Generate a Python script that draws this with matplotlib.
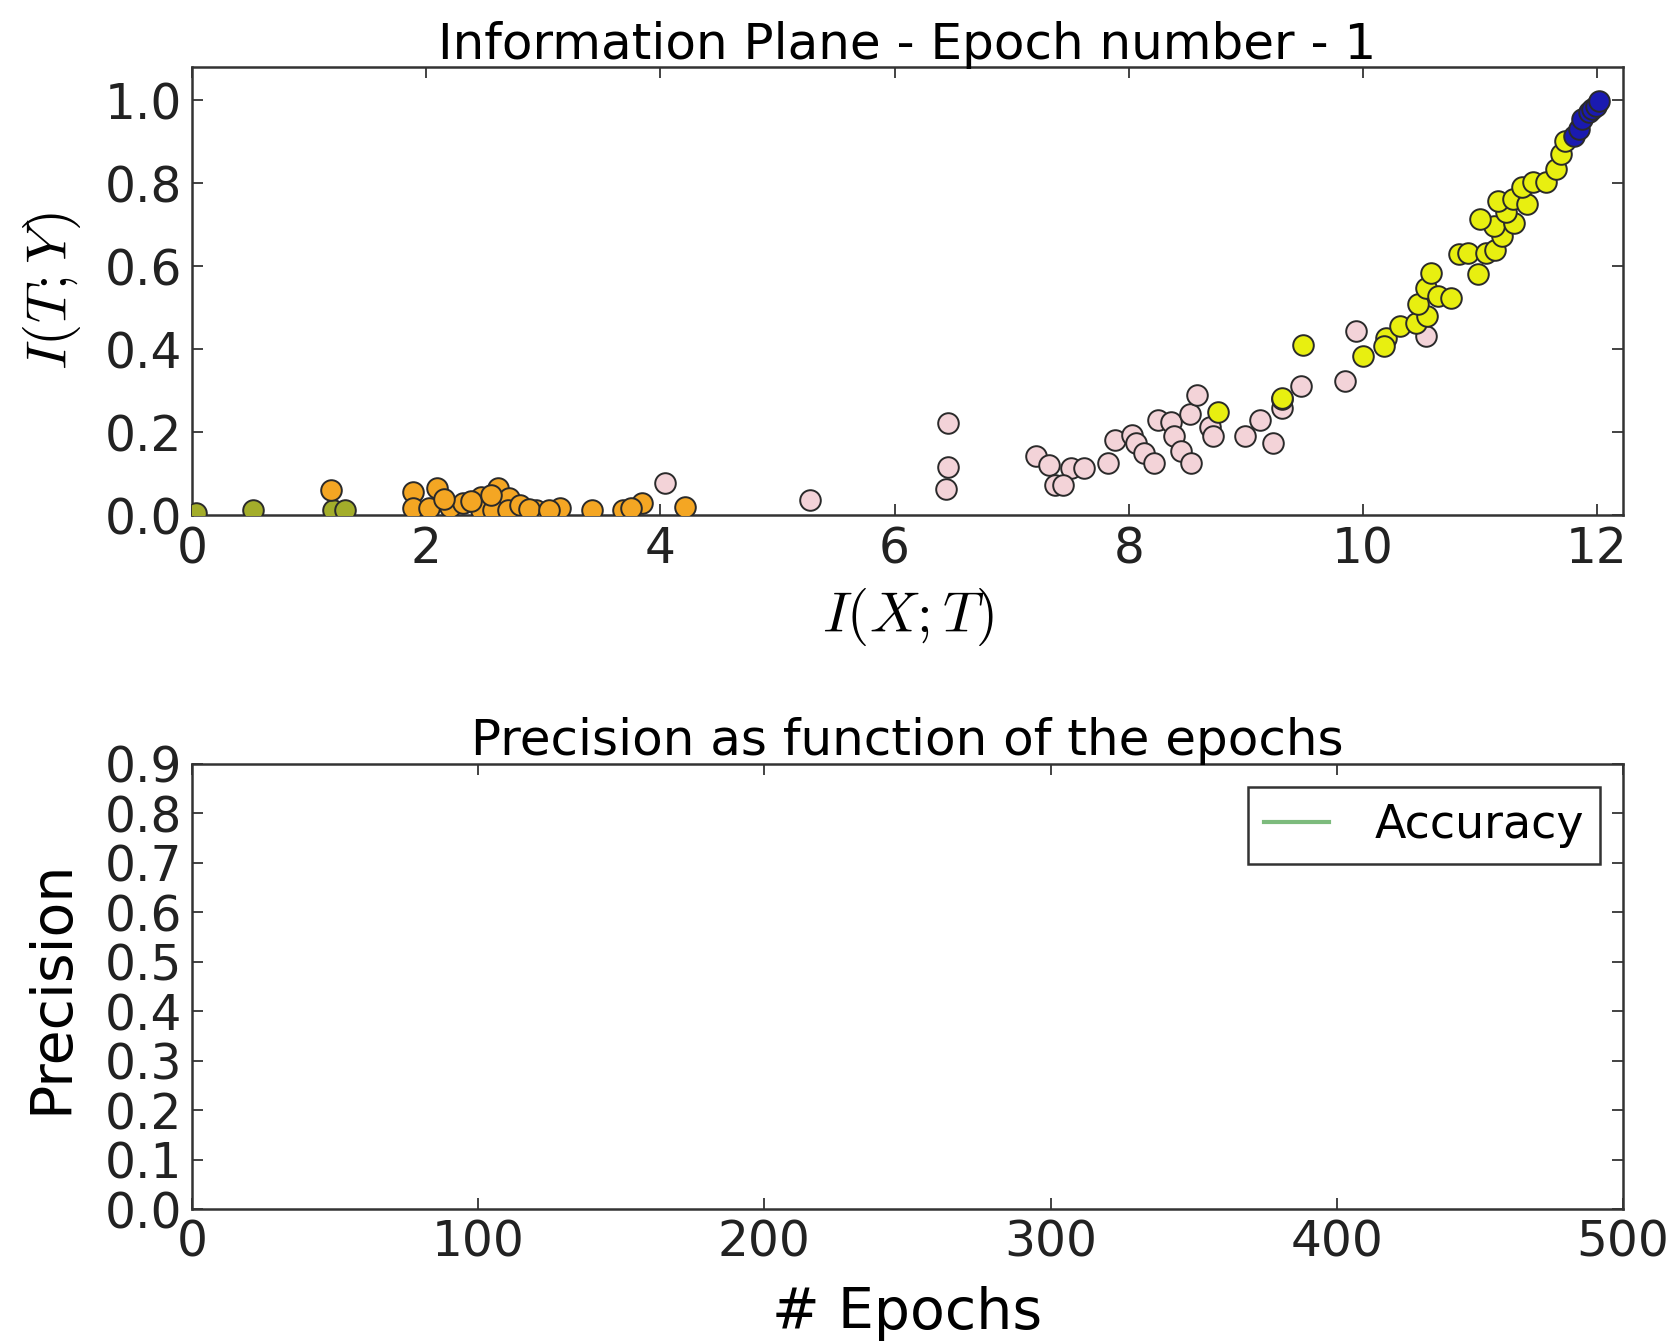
import matplotlib
matplotlib.use("Agg")
import matplotlib.pyplot as plt

plt.rcParams['mathtext.fontset'] = 'cm'
plt.rcParams['font.family'] = ['DejaVu Sans']

# ---- data: information plane points (I(X;T), I(T;Y)) per layer ----
olive_x = [0.03, 0.52, 1.20, 1.31]
olive_y = [0.005, 0.012, 0.012, 0.012]

orange_x = [1.19, 1.89, 1.89, 2.09, 2.02, 2.20, 2.31, 2.47, 2.61, 2.71, 2.47, 2.57,
            2.70, 2.94, 3.14, 3.42, 3.68, 3.84, 4.21, 2.15, 2.38, 2.55, 2.80, 2.88, 3.05, 3.75]
orange_y = [0.061, 0.057, 0.017, 0.065, 0.017, 0.021, 0.029, 0.045, 0.065, 0.041, 0.013, 0.013,
            0.013, 0.013, 0.017, 0.013, 0.013, 0.029, 0.021, 0.040, 0.035, 0.050, 0.025, 0.015, 0.012, 0.018]

pink_x = [4.04, 5.28, 6.46, 6.46, 6.44, 7.21, 7.32, 7.37, 7.51, 7.62, 7.44, 7.82, 7.88,
          8.03, 8.06, 8.13, 8.22, 8.25, 8.36, 8.39, 8.45, 8.53, 8.52, 8.58, 8.69, 8.72,
          8.99, 9.12, 9.23, 9.31, 9.47, 9.85, 9.94, 10.54, 9.31]
pink_y = [0.077, 0.036, 0.222, 0.116, 0.063, 0.142, 0.122, 0.073, 0.114, 0.114, 0.073, 0.126, 0.182,
          0.194, 0.174, 0.150, 0.126, 0.230, 0.226, 0.190, 0.154, 0.126, 0.243, 0.290, 0.214, 0.190,
          0.190, 0.230, 0.174, 0.258, 0.311, 0.323, 0.444, 0.432, 0.280]

yellow_x = [8.76, 9.31, 9.49, 10.00, 10.20, 10.18, 10.32, 10.45, 10.55, 10.47, 10.54, 10.58,
            10.64, 10.75, 10.82, 10.90, 10.98, 11.05, 11.13, 11.19, 11.12, 11.00, 11.29, 11.22,
            11.15, 11.28, 11.40, 11.36, 11.45, 11.56, 11.65, 11.69, 11.73]
yellow_y = [0.250, 0.283, 0.410, 0.385, 0.428, 0.407, 0.456, 0.464, 0.480, 0.508, 0.548, 0.584,
            0.528, 0.524, 0.629, 0.633, 0.581, 0.633, 0.640, 0.673, 0.697, 0.713, 0.705, 0.730,
            0.758, 0.762, 0.750, 0.790, 0.802, 0.802, 0.834, 0.870, 0.902]

blue_x = [11.80, 11.85, 11.87, 11.93, 11.96, 11.99, 12.02]
blue_y = [0.915, 0.930, 0.955, 0.971, 0.980, 0.987, 0.999]

# ---- accuracy (empty at epoch 1) ----
epochs = []
accuracy = []

title_top = "Information Plane - Epoch number - 1"
title_bottom = "Precision as function of the epochs"
xlabel_top = r"$I(X;T)$"
ylabel_top = r"$I(T;Y)$"
xlabel_bottom = "# Epochs"
ylabel_bottom = "Precision"

TICK = 35
TITLE = 36
LABEL = 41

fig = plt.figure(figsize=(16.73, 13.42), dpi=100, facecolor='white')
ax1 = fig.add_axes([0.1148, 0.616, 0.970 - 0.1148, 0.950 - 0.616])
ax2 = fig.add_axes([0.1148, 0.099, 0.970 - 0.1148, 0.431 - 0.099])

S = 220
kw = dict(s=S, edgecolors='#2a2a2a', linewidths=1.4, zorder=3)
ax1.scatter(olive_x, olive_y, c='#a3ad2a', **kw)
ax1.scatter(orange_x, orange_y, c='#f4a623', **kw)
ax1.scatter(pink_x, pink_y, c='#f3d3d8', **kw)
ax1.scatter(yellow_x, yellow_y, c='#e8ef10', **kw)
ax1.scatter(blue_x, blue_y, c='#1a1ab0', **kw)

ax1.set_xlim(0, 12.22)
ax1.set_ylim(0, 1.08)
ax1.set_xticks([0, 2, 4, 6, 8, 10, 12])
ax1.set_yticks([0.0, 0.2, 0.4, 0.6, 0.8, 1.0])
ax1.set_title(title_top, fontsize=TITLE, pad=6)
ax1.set_xlabel(xlabel_top, fontsize=LABEL, labelpad=9)
ax1.set_ylabel(ylabel_top, fontsize=LABEL, labelpad=16)

ax2.plot(epochs, accuracy, color='#7dbb7d', lw=3, label='Accuracy')
ax2.set_xlim(0, 500)
ax2.set_ylim(0, 0.9)
ax2.set_xticks([0, 100, 200, 300, 400, 500])
ax2.set_yticks([round(0.1 * i, 1) for i in range(10)])
ax2.set_title(title_bottom, fontsize=TITLE, pad=6)
ax2.set_xlabel(xlabel_bottom, fontsize=LABEL, labelpad=14)
ax2.set_ylabel(ylabel_bottom, fontsize=LABEL, labelpad=18)
leg = ax2.legend(loc='upper right', fontsize=33, handlelength=1.4, handletextpad=1.0,
                 borderpad=0.35, borderaxespad=0.5, fancybox=False, framealpha=1)
leg.get_frame().set_edgecolor('#333333')
leg.get_frame().set_linewidth(1.8)

for ax in (ax1, ax2):
    ax.tick_params(direction='in', top=True, right=True, length=8, width=1.2,
                   labelsize=TICK, pad=7, colors='#222222')
    for sp in ax.spines.values():
        sp.set_linewidth(1.8)
        sp.set_color('#333333')

fig.savefig('out.png', dpi=100, facecolor='white')
